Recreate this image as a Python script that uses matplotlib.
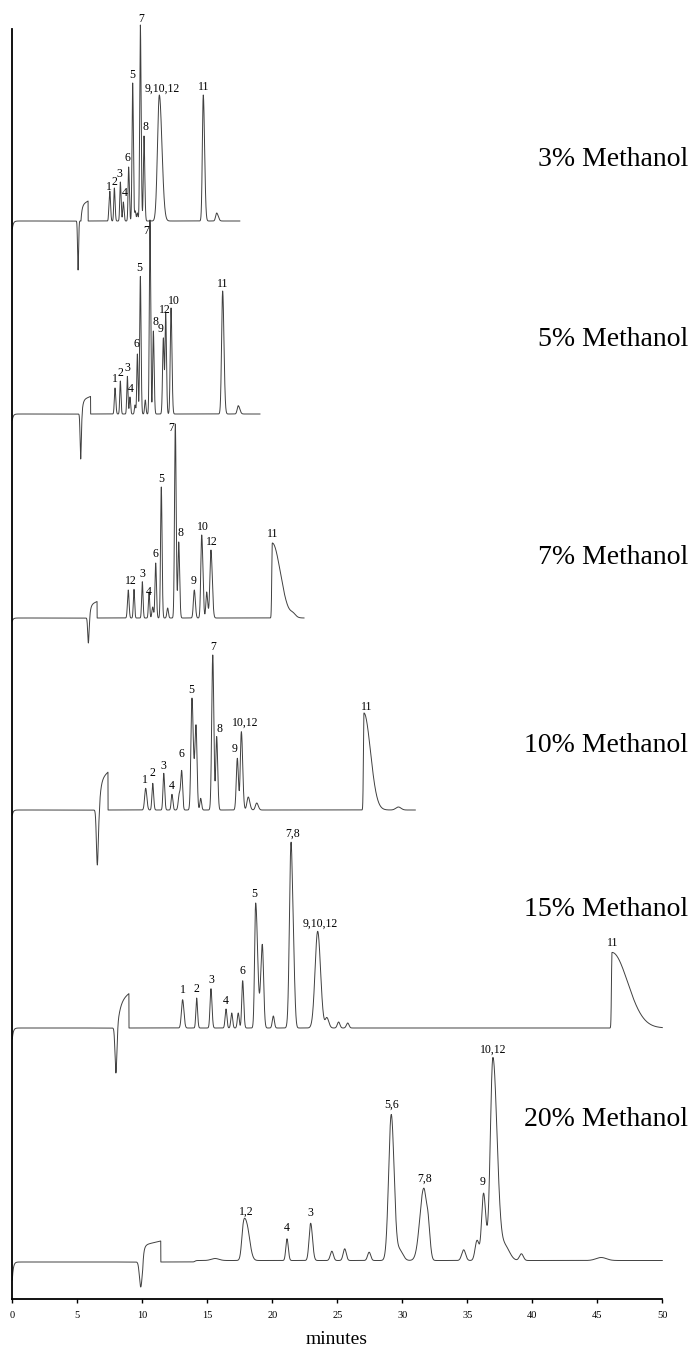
import numpy as np
import matplotlib
matplotlib.use("Agg")
import matplotlib.pyplot as plt

plt.rcParams["font.family"] = ["Liberation Serif", "DejaVu Serif"]

# ---------------------------------------------------------------
# Chromatograms at six methanol levels (time in min, detector units)
# ---------------------------------------------------------------
conditions = ["3% Methanol", "5% Methanol", "7% Methanol",
              "10% Methanol", "15% Methanol", "20% Methanol"]
baseline = [1078, 885, 681, 489, 271, 37]          # vertical offset of each trace
run_end = [17.5, 19.05, 22.44, 31.0, 50.0, 50.0]    # last recorded minute
start_hook = [8, 6, 3, 5, 11, 18]                   # detector settling at t=0

# injection disturbance: negative spike followed by a solvent-front step
dip_time = [5.06, 5.26, 5.85, 6.54, 7.97, 9.88]
dip_depth = [49, 45, 25, 55, 45, 25]
dip_width = [0.04, 0.045, 0.05, 0.07, 0.07, 0.1]
step_on = [5.28, 5.36, 5.95, 6.69, 8.08, 10.03]
step_off = [5.83, 6.02, 6.52, 7.36, 8.97, 11.42]
step_height = [20, 17.6, 16.5, 38, 35, 21]
step_tau = [0.08, 0.08, 0.08, 0.12, 0.22, 0.1]

# peaks: retention time, height, front and back widths (sigma, min)
m3_rt = [7.45, 7.52, 7.85, 8.31, 8.54, 8.95, 9.26, 9.46, 9.62, 9.85, 10.13, 11.31, 14.69, 15.72]
m3_h = [17, 22, 33, 39, 19, 54, 138, 10, 8, 196, 85, 126, 126, 8]
m3_wf = [0.04, 0.04, 0.045, 0.045, 0.045, 0.045, 0.05, 0.045, 0.045, 0.05, 0.05, 0.14, 0.07, 0.08]
m3_wb = [0.05, 0.05, 0.055, 0.055, 0.055, 0.055, 0.055, 0.05, 0.05, 0.06, 0.06, 0.2, 0.1, 0.12]

m5_rt = [7.90, 8.31, 8.85, 9.05, 9.44, 9.62, 9.85, 10.23, 10.59, 10.85, 11.62, 11.80, 12.21, 16.18, 17.38]
m5_h = [26, 33, 37.7, 17, 9, 60, 137.6, 14, 194, 83, 76, 100, 106, 123, 8.3]
m5_wf = [0.05, 0.045, 0.045, 0.045, 0.045, 0.045, 0.05, 0.05, 0.05, 0.05, 0.06, 0.05, 0.06, 0.08, 0.08]
m5_wb = [0.06, 0.05, 0.05, 0.05, 0.05, 0.05, 0.055, 0.05, 0.055, 0.06, 0.06, 0.06, 0.07, 0.1, 0.12]

m7_rt = [8.92, 9.36, 10.00, 10.52, 10.80, 11.03, 11.46, 11.95, 12.54, 12.80, 14.00, 14.57, 14.95, 15.28, 20.00, 21.6]
m7_h = [28, 28.7, 36.3, 26, 11, 55, 131, 10, 194, 76, 28, 83, 26, 68, 75, 3]
m7_wf = [0.06, 0.05, 0.05, 0.05, 0.06, 0.055, 0.055, 0.06, 0.06, 0.06, 0.07, 0.07, 0.06, 0.08, 0.04, 0.2]
m7_wb = [0.06, 0.05, 0.055, 0.05, 0.06, 0.06, 0.06, 0.06, 0.065, 0.07, 0.08, 0.09, 0.08, 0.1, 0.62, 0.2]

m10_rt = [10.26, 10.80, 11.65, 12.28, 12.85, 13.03, 13.82, 14.13, 14.49, 15.42, 15.72, 17.31, 17.62, 18.15, 18.80, 27.05, 29.7]
m10_h = [21.7, 26.7, 36.7, 15.7, 16, 38.3, 111.7, 84.3, 11.7, 155, 73.3, 51.7, 78.3, 13, 7, 97, 3]
m10_wf = [0.08, 0.06, 0.06, 0.06, 0.08, 0.07, 0.08, 0.09, 0.06, 0.08, 0.07, 0.08, 0.08, 0.1, 0.1, 0.04, 0.2]
m10_wb = [0.09, 0.07, 0.07, 0.07, 0.08, 0.07, 0.1, 0.08, 0.07, 0.08, 0.08, 0.08, 0.1, 0.12, 0.12, 0.5, 0.2]

m15_rt = [13.10, 14.18, 15.28, 16.44, 16.88, 17.38, 17.72, 18.72, 19.23, 20.08, 21.44, 21.66, 23.49, 24.20, 25.10, 25.80, 46.13]
m15_h = [28.3, 30, 39.3, 19, 15, 15, 47.3, 125, 83.3, 12, 185, 35, 96.7, 10, 6, 5, 75.6]
m15_wf = [0.09, 0.06, 0.07, 0.07, 0.07, 0.07, 0.07, 0.08, 0.12, 0.08, 0.12, 0.08, 0.2, 0.12, 0.1, 0.1, 0.04]
m15_wb = [0.1, 0.07, 0.08, 0.07, 0.07, 0.07, 0.08, 0.15, 0.1, 0.08, 0.13, 0.1, 0.22, 0.15, 0.1, 0.1, 1.2]

m20_rt = [15.6, 17.75, 17.99, 21.13, 22.95, 24.58, 25.57, 27.45, 29.15, 29.80, 31.65, 32.0, 34.72, 35.75, 36.25, 36.97, 37.9, 39.16, 45.3]
m20_h = [2, 18, 37.5, 21.7, 37.3, 9.3, 11.7, 8.3, 146, 10, 72, 25, 10.7, 20, 67, 203, 14, 6.7, 3]
m20_wf = [0.3, 0.12, 0.2, 0.09, 0.12, 0.12, 0.12, 0.12, 0.2, 0.2, 0.3, 0.12, 0.15, 0.15, 0.15, 0.2, 0.3, 0.15, 0.4]
m20_wb = [0.3, 0.12, 0.25, 0.1, 0.14, 0.12, 0.12, 0.12, 0.22, 0.25, 0.22, 0.15, 0.15, 0.15, 0.17, 0.32, 0.35, 0.15, 0.4]

peak_tables = [
    (m3_rt, m3_h, m3_wf, m3_wb),
    (m5_rt, m5_h, m5_wf, m5_wb),
    (m7_rt, m7_h, m7_wf, m7_wb),
    (m10_rt, m10_h, m10_wf, m10_wb),
    (m15_rt, m15_h, m15_wf, m15_wb),
    (m20_rt, m20_h, m20_wf, m20_wb),
]

# peak identification labels: text, time, height above axis
m3_labels = [("1", 7.46, 1111.7), ("2", 7.82, 1116.7), ("3", 8.21, 1124.7),
             ("4", 8.62, 1105.7), ("6", 8.85, 1140.7), ("5", 9.26, 1224),
             ("7", 9.95, 1279.7), ("8", 10.28, 1172.3), ("9,10,12", 11.54, 1210.7),
             ("11", 14.75, 1212.3)]
m5_labels = [("1", 7.90, 919.7), ("2", 8.28, 926.3), ("3", 8.82, 930.7),
             ("4", 9.13, 909.7), ("6", 9.52, 955), ("5", 9.77, 1030.7),
             ("7", 10.28, 1068), ("8", 11.03, 977.3), ("9", 11.38, 969.7),
             ("12", 11.77, 989), ("10", 12.46, 998.3), ("11", 16.18, 1014.7)]
m7_labels = [("12", 9.13, 717.7), ("3", 10.0, 725.3), ("4", 10.52, 706.7),
             ("6", 11.0, 745.3), ("5", 11.44, 820), ("7", 12.23, 870.7),
             ("8", 12.92, 765.7), ("9", 13.98, 718), ("10", 14.69, 772),
             ("12", 15.31, 756.7), ("11", 20.0, 765.3)]
m10_labels = [("1", 10.18, 519), ("2", 10.75, 526.3), ("3", 11.62, 533.3),
              ("4", 12.23, 513.3), ("6", 13.03, 545.3), ("5", 13.8, 609),
              ("7", 15.42, 652.3), ("8", 15.9, 570), ("9", 17.11, 549.7),
              ("10,12", 17.92, 576.3), ("11", 27.28, 592.3)]
m15_labels = [("1", 13.15, 309), ("2", 14.18, 310), ("3", 15.28, 319),
              ("4", 16.42, 298), ("6", 17.69, 328.3), ("5", 18.65, 404.7),
              ("7,8", 21.57, 465), ("9,10,12", 23.67, 375), ("11", 46.19, 356.3)]
m20_labels = [("1,2", 17.99, 87.3), ("4", 21.13, 70.7), ("3", 22.91, 85.7),
              ("5,6", 29.18, 194), ("7,8", 31.72, 120.7), ("9", 36.18, 117.3),
              ("10,12", 37.0, 249)]
label_tables = [m3_labels, m5_labels, m7_labels, m10_labels, m15_labels, m20_labels]

# where each condition name sits (height above axis)
condition_y = [1139, 960, 742, 553, 390, 180]

# small baseline shift in the 20 % run
shift_time = [None, None, None, None, None, 14.05]
shift_height = [0, 0, 0, 0, 0, 1.5]


def bigauss(t, rt, h, wf, wb):
    s = np.where(t < rt, wf, wb)
    return h * np.exp(-0.5 * ((t - rt) / s) ** 2)


def trace(i):
    t = np.arange(0.0, run_end[i] + 1e-9, 0.002)
    y = np.full_like(t, float(baseline[i]))
    y -= start_hook[i] * np.exp(-t / 0.08)
    y -= dip_depth[i] * np.exp(-0.5 * ((t - dip_time[i]) / dip_width[i]) ** 2)
    on, off = step_on[i], step_off[i]
    inside = (t >= on) & (t < off)
    frac = (t - on) / (off - on)
    rise = 1.0 - np.exp(-(t - on) / step_tau[i])
    y += np.where(inside, step_height[i] * rise * (0.8 + 0.2 * frac), 0.0)
    if shift_time[i] is not None:
        y += shift_height[i] / (1.0 + np.exp(-(t - shift_time[i]) / 0.05))
    rts, hs, wfs, wbs = peak_tables[i]
    for rt, h, wf, wb in zip(rts, hs, wfs, wbs):
        y += bigauss(t, rt, h, wf, wb)
    return t, y


W, H = 692, 1350
fig = plt.figure(figsize=(W / 100, H / 100), dpi=100)
ax = fig.add_axes([12.3 / W, 51 / H, 650 / W, 1270 / H])
ax.set_xlim(0, 50)
ax.set_ylim(0, 1270)

for i in range(len(conditions)):
    t, y = trace(i)
    ax.plot(t, y, color="#404040", lw=0.7, clip_on=False)
    for txt, lt, ly in label_tables[i]:
        ax.text(lt, ly, txt, ha="center", va="center", fontsize=8.5, color="black")
    ax.text(51.98, condition_y[i], conditions[i], ha="right", va="center",
            fontsize=20, color="black")

for side in ("top", "right"):
    ax.spines[side].set_visible(False)
ax.spines["left"].set_linewidth(1.3)
ax.spines["bottom"].set_linewidth(1.3)
ax.set_yticks([])
ax.set_xticks(np.arange(0, 51, 5))
ax.tick_params(axis="x", direction="out", length=3, width=1, pad=6, labelsize=7.5)

fig.text(337 / W, 1 - 1340 / H, "minutes", ha="center", va="center", fontsize=14)

fig.savefig("out.png", dpi=100)
